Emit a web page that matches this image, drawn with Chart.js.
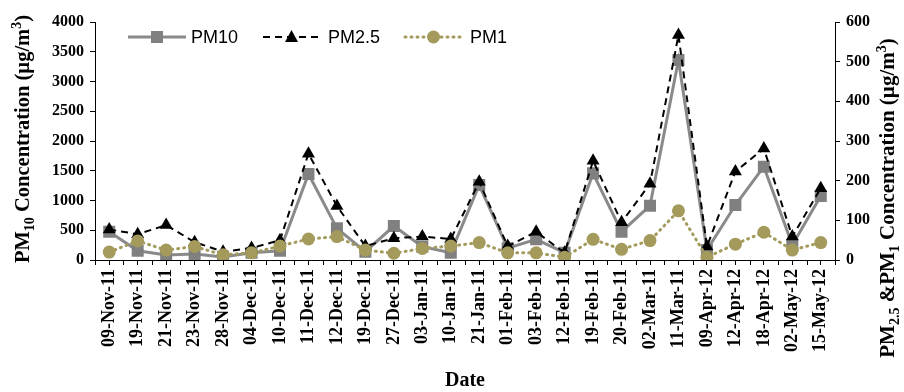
<!DOCTYPE html>
<html>
<head>
<meta charset="utf-8">
<script src="https://cdn.jsdelivr.net/npm/chart.js@4.4.1/dist/chart.umd.min.js"></script>
<style>
html, body { margin: 0; padding: 0; background: #fff; }
</style>
</head>
<body>
<canvas id="pmChart" width="904" height="392"></canvas>
<script>
// Sampling dates (as printed on the axis)
const dates = ['09-Nov-11', '19-Nov-11', '21-Nov-11', '23-Nov-11', '28-Nov-11', '04-Dec-11',
    '10-Dec-11', '11-Dec-11', '12-Dec-11', '19-Dec-11', '27-Dec-11', '03-Jan-11', '10-Jan-11',
    '21-Jan-11', '01-Feb-11', '03-Feb-11', '12-Feb-11', '19-Feb-11', '20-Feb-11', '02-Mar-11',
    '11-Mar-11', '09-Apr-12', '12-Apr-12', '18-Apr-12', '02-May-12', '15-May-12'];

// Concentrations, µg/m3
const pm10 = [476, 156, 84, 100, 50, 123, 156, 1445, 532, 140, 571, 224, 123, 1260, 197, 348,
    123, 1456, 476, 913, 3361, 168, 924, 1568, 252, 1075];
const pm25 = [77, 65, 88, 45, 21, 30, 50, 268, 136, 35, 55, 59, 53, 197, 35, 71,
    18, 250, 95, 192, 567, 34, 223, 281, 59, 181];
const pm1 = [20, 48, 25, 34, 13, 18, 35, 53, 59, 25, 17, 29, 35, 44, 18, 18,
    7, 52, 27, 49, 124, 7, 40, 70, 25, 44];

// Axis ranges
const leftAxis = { min: 0, max: 4000, step: 500 };
const rightAxis = { min: 0, max: 600, step: 100 };

const GRAY = '#8a8a8a';
const OLIVE = '#a39a5c';
const SERIF = '"Liberation Serif", "Times New Roman", serif';
const SANS = '"Liberation Sans", Arial, sans-serif';

// draws text with sub/superscript pieces, centred at (x, y), rotated -90deg
function drawRichVertical(ctx, parts, x, y, size) {
    const small = Math.round(size * 0.68);
    ctx.save();
    ctx.translate(x, y);
    ctx.rotate(-Math.PI / 2);
    ctx.textBaseline = 'alphabetic';
    ctx.textAlign = 'left';
    ctx.fillStyle = '#000';
    let total = 0;
    parts.forEach(p => {
        ctx.font = 'bold ' + (p.sub || p.sup ? small : size) + 'px ' + SERIF;
        p.w = ctx.measureText(p.t).width;
        total += p.w;
    });
    let cx = -total / 2;
    const base = size * 0.35;
    parts.forEach(p => {
        ctx.font = 'bold ' + (p.sub || p.sup ? small : size) + 'px ' + SERIF;
        let dy = base;
        if (p.sub) dy += size * 0.22;
        if (p.sup) dy -= size * 0.38;
        ctx.fillText(p.t, cx, dy);
        cx += p.w;
    });
    ctx.restore();
}

function drawMarker(ctx, style, x, y, color) {
    ctx.save();
    ctx.fillStyle = color;
    ctx.beginPath();
    if (style === 'rect') {
        ctx.rect(x - 6, y - 6, 12, 12);
    } else if (style === 'triangle') {
        ctx.moveTo(x, y - 7);
        ctx.lineTo(x + 6.5, y + 5);
        ctx.lineTo(x - 6.5, y + 5);
        ctx.closePath();
    } else {
        ctx.arc(x, y, 6.5, 0, Math.PI * 2);
    }
    ctx.fill();
    ctx.restore();
}

const extrasPlugin = {
    id: 'extras',
    afterDraw(chart) {
        const ctx = chart.ctx;
        const xs = chart.scales.x;

        // tick marks between categories
        ctx.save();
        ctx.strokeStyle = '#000';
        ctx.lineWidth = 1;
        const n = dates.length;
        for (let i = 0; i <= n; i++) {
            const px = Math.round(xs.left + i * xs.width / n) + 0.5;
            ctx.beginPath();
            ctx.moveTo(px, xs.top);
            ctx.lineTo(px, xs.top + 5);
            ctx.stroke();
        }
        ctx.restore();

        // axis titles
        drawRichVertical(ctx, [
            { t: 'PM' }, { t: '10', sub: true }, { t: ' Concentration (µg/m' }, { t: '3', sup: true }, { t: ')' }
        ], 22, 139, 20.5);
        drawRichVertical(ctx, [
            { t: 'PM' }, { t: '2.5', sub: true }, { t: ' &PM' }, { t: '1', sub: true },
            { t: ' Concentration (µg/m' }, { t: '3', sup: true }, { t: ')' }
        ], 887, 198, 21);

        ctx.save();
        ctx.fillStyle = '#000';
        ctx.font = 'bold 20px ' + SERIF;
        ctx.textAlign = 'center';
        ctx.textBaseline = 'middle';
        ctx.fillText('Date', (chart.chartArea.left + chart.chartArea.right) / 2, 381);
        ctx.restore();

        // legend with line + marker samples
        const items = [
            { label: 'PM10', x0: 128, x1: 186, color: GRAY, width: 3, dash: [], cap: 'butt', marker: 'rect', mColor: '#808080', tx: 191 },
            { label: 'PM2.5', x0: 263, x1: 320, color: '#000', width: 2, dash: [7, 5], cap: 'butt', marker: 'triangle', mColor: '#000', tx: 328 },
            { label: 'PM1', x0: 405, x1: 462, color: OLIVE, width: 3, dash: [1, 5], cap: 'round', marker: 'circle', mColor: OLIVE, tx: 470 }
        ];
        const ly = 37;
        items.forEach(it => {
            ctx.save();
            ctx.strokeStyle = it.color;
            ctx.lineWidth = it.width;
            ctx.setLineDash(it.dash);
            ctx.lineCap = it.cap;
            ctx.beginPath();
            ctx.moveTo(it.x0, ly);
            ctx.lineTo(it.x1, ly);
            ctx.stroke();
            ctx.restore();
            drawMarker(ctx, it.marker, (it.x0 + it.x1) / 2, ly, it.mColor);
            ctx.save();
            ctx.fillStyle = '#000';
            ctx.font = '18px ' + SANS;
            ctx.textBaseline = 'middle';
            ctx.fillText(it.label, it.tx, ly + 1);
            ctx.restore();
        });
    }
};

new Chart(document.getElementById('pmChart'), {
    type: 'line',
    data: {
        labels: dates,
        datasets: [{
            label: 'PM10',
            data: pm10,
            yAxisID: 'y',
            borderColor: GRAY,
            borderWidth: 3,
            pointStyle: 'rect',
            pointRadius: 8.5,
            pointBackgroundColor: '#808080',
            pointBorderWidth: 0,
            tension: 0,
            order: 2
        }, {
            label: 'PM2.5',
            data: pm25,
            yAxisID: 'y1',
            borderColor: '#000',
            borderWidth: 2,
            borderDash: [7, 5],
            pointStyle: 'triangle',
            pointRadius: 7.5,
            pointBackgroundColor: '#000',
            pointBorderWidth: 0,
            tension: 0,
            order: 1
        }, {
            label: 'PM1',
            data: pm1,
            yAxisID: 'y1',
            borderColor: OLIVE,
            borderWidth: 3,
            borderDash: [1, 5],
            borderCapStyle: 'round',
            pointStyle: 'circle',
            pointRadius: 6.5,
            pointBackgroundColor: OLIVE,
            pointBorderWidth: 0,
            tension: 0,
            order: 0
        }]
    },
    options: {
        responsive: false,
        animation: false,
        layout: { padding: { top: 22, left: 0, right: 0, bottom: 0 } },
        plugins: {
            legend: { display: false },
            tooltip: { enabled: false }
        },
        scales: {
            x: {
                offset: true,
                grid: { display: true, offset: false, drawOnChartArea: false, tickLength: 5, color: '#000' },
                border: { color: '#000', width: 1 },
                ticks: {
                    color: '#000',
                    font: { family: SERIF, size: 18, weight: 'bold' },
                    minRotation: 90,
                    maxRotation: 90,
                    autoSkip: false,
                    padding: 4
                },
                afterFit(scale) { scale.height = 132; }
            },
            y: {
                position: 'left',
                min: leftAxis.min,
                max: leftAxis.max,
                grid: { display: true, drawOnChartArea: false, tickLength: 5, color: '#000' },
                border: { color: '#000', width: 1 },
                ticks: {
                    stepSize: leftAxis.step,
                    color: '#000',
                    font: { family: SERIF, size: 16, weight: 'bold' },
                    padding: 6,
                    callback: v => String(v)
                },
                afterFit(scale) { scale.width = 95; }
            },
            y1: {
                position: 'right',
                min: rightAxis.min,
                max: rightAxis.max,
                grid: { display: true, drawOnChartArea: false, tickLength: 5, color: '#000' },
                border: { color: '#000', width: 1 },
                ticks: {
                    stepSize: rightAxis.step,
                    color: '#000',
                    font: { family: SERIF, size: 16, weight: 'bold' },
                    padding: 6,
                    callback: v => String(v)
                },
                afterFit(scale) { scale.width = 69; }
            }
        }
    },
    plugins: [extrasPlugin]
});
</script>
</body>
</html>
